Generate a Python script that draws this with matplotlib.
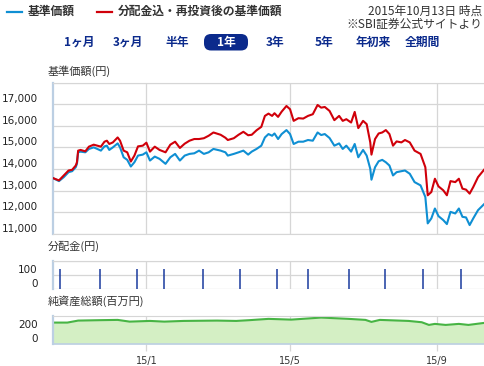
import matplotlib
matplotlib.use('Agg')
import matplotlib.pyplot as plt
import matplotlib.dates as mdates
from matplotlib.lines import Line2D
from matplotlib.patches import FancyBboxPatch
from matplotlib.transforms import ScaledTranslation
import pandas as pd

# --- data ---
price_dates = ['2014-10-15', '2014-10-20', '2014-10-24', '2014-10-28', '2014-10-31', '2014-11-03', '2014-11-04',
               '2014-11-05', '2014-11-07', '2014-11-11', '2014-11-14', '2014-11-18', '2014-11-21', '2014-11-24',
               '2014-11-27', '2014-11-29', '2014-12-01', '2014-12-04', '2014-12-08', '2014-12-10', '2014-12-13',
               '2014-12-16', '2014-12-19', '2014-12-22', '2014-12-25', '2014-12-29', '2015-01-01', '2015-01-04',
               '2015-01-08', '2015-01-12', '2015-01-17', '2015-01-21', '2015-01-25', '2015-01-29', '2015-02-02',
               '2015-02-06', '2015-02-10', '2015-02-14', '2015-02-18', '2015-02-22', '2015-02-26', '2015-03-04',
               '2015-03-08', '2015-03-10', '2015-03-15', '2015-03-19', '2015-03-23', '2015-03-27', '2015-03-30',
               '2015-04-03', '2015-04-07', '2015-04-10', '2015-04-13', '2015-04-16', '2015-04-18', '2015-04-21',
               '2015-04-24', '2015-04-28', '2015-05-01', '2015-05-04', '2015-05-08', '2015-05-12', '2015-05-16',
               '2015-05-20', '2015-05-24', '2015-05-27', '2015-05-30', '2015-06-03', '2015-06-07', '2015-06-11',
               '2015-06-14', '2015-06-17', '2015-06-21', '2015-06-24', '2015-06-27', '2015-07-01', '2015-07-04',
               '2015-07-07', '2015-07-08', '2015-07-11', '2015-07-14', '2015-07-17', '2015-07-20', '2015-07-23',
               '2015-07-26', '2015-07-29', '2015-08-02', '2015-08-05', '2015-08-09', '2015-08-13', '2015-08-18',
               '2015-08-22', '2015-08-24', '2015-08-27', '2015-08-30', '2015-09-02', '2015-09-06', '2015-09-09',
               '2015-09-12', '2015-09-16', '2015-09-19', '2015-09-22', '2015-09-25', '2015-09-28', '2015-10-01',
               '2015-10-05', '2015-10-10']
nav = [13580, 13441, 13625, 13855, 13901, 14085, 14241, 14775, 14807, 14775, 14931, 15004, 14931, 14853,
       15050, 15083, 14885, 15004, 15188, 15004, 14545, 14425, 14117, 14315, 14623, 14669, 14775, 14393,
       14577, 14471, 14241, 14545, 14701, 14393, 14623, 14701, 14729, 14853, 14701, 14775, 14931, 14853,
       14775, 14623, 14701, 14775, 14853, 14669, 14807, 14931, 15083, 15464, 15621, 15542, 15648, 15391,
       15621, 15805, 15621, 15161, 15267, 15267, 15345, 15313, 15694, 15575, 15621, 15437, 15083, 15188,
       14931, 15083, 14807, 15161, 14545, 14885, 14623, 14011, 13506, 14085, 14361, 14425, 14315, 14163,
       13703, 13855, 13901, 13933, 13781, 13395, 13243, 12705, 11482, 11712, 12172, 11818, 11634, 11450,
       12016, 11942, 12172, 11786, 11758, 11404, 11712, 12094, 12370]
nav_reinvested = [13580, 13473, 13703, 13933, 13965, 14163, 14315, 14853, 14885, 14821, 15037, 15129, 15083, 15037,
                  15267, 15313, 15161, 15234, 15464, 15313, 14853, 14775, 14347, 14623, 15050, 15083, 15221, 14807,
                  15037, 14885, 14775, 15129, 15267, 14977, 15175, 15313, 15391, 15391, 15427, 15542, 15694, 15588,
                  15450, 15345, 15427, 15588, 15726, 15565, 15588, 15795, 15956, 16462, 16568, 16462, 16586, 16416,
                  16660, 16922, 16770, 16232, 16356, 16338, 16462, 16540, 16968, 16844, 16876, 16692, 16264, 16462,
                  16232, 16310, 16154, 16646, 15896, 16232, 16080, 15234, 14669, 15391, 15648, 15694, 15805, 15621,
                  15083, 15280, 15234, 15345, 15234, 14853, 14701, 14085, 12784, 12935, 13551, 13197, 13014, 12784,
                  13441, 13395, 13551, 13092, 13046, 12862, 13165, 13625, 13965]

div_dates = ['2014-10-21', '2014-11-23', '2014-12-24', '2015-01-16', '2015-02-17', '2015-03-20',
             '2015-04-20', '2015-05-16', '2015-06-19', '2015-07-19', '2015-08-20', '2015-09-21']
dividends = [140, 140, 140, 140, 140, 140, 140, 140, 140, 140, 140, 140]

asset_dates = ['2014-10-15', '2014-10-27', '2014-11-05', '2014-11-23', '2014-12-08', '2014-12-18', '2015-01-04',
               '2015-01-16', '2015-02-01', '2015-03-01', '2015-03-17', '2015-03-28', '2015-04-13', '2015-05-02',
               '2015-05-27', '2015-06-19', '2015-07-03', '2015-07-08', '2015-07-15', '2015-08-08', '2015-08-19',
               '2015-08-25', '2015-08-30', '2015-09-08', '2015-09-19', '2015-09-27', '2015-10-10']
net_assets = [307, 307, 336, 342, 346, 321, 331, 321, 331, 336, 331, 342, 361, 350,
              380, 361, 346, 317, 346, 331, 312, 273, 288, 273, 288, 273, 302]

price_ticks = [11000, 12000, 13000, 14000, 15000, 16000, 17000]
price_tick_labels = ['11,000', '12,000', '13,000', '14,000', '15,000', '16,000', '17,000']
x_tick_dates = ['2015-01-01', '2015-05-01', '2015-09-01']
x_tick_labels = ['15/1', '15/5', '15/9']
periods = ['1ヶ月', '3ヶ月', '半年', '1年', '3年', '5年', '年初来', '全期間']
selected_period = '1年'

# --- style ---
JP = ['Noto Sans CJK JP', 'DejaVu Sans']
BLUE = '#0f8fd3'
RED = '#d0000a'
NAVY = '#0b2a8c'
GRID = '#d6d6d6'
SPINE = '#bccfe3'
TXT = '#333333'

W, H = 484, 366
fig = plt.figure(figsize=(W / 100, H / 100), dpi=100)


def fx(px):
    return px / W


def fy(py):
    return 1 - py / H


def panel(x0, y_top, y_bot):
    ax = fig.add_axes([fx(x0), fy(y_bot), fx(W) - fx(x0), (y_bot - y_top) / H])
    ax.set_axisbelow(True)
    ax.spines['right'].set_visible(False)
    ax.spines['top'].set_color(GRID)
    ax.spines['bottom'].set_color(GRID)
    ax.spines['left'].set_color(SPINE)
    ax.spines['left'].set_linewidth(1.6)
    ax.grid(True, color=GRID, lw=0.9)
    ax.tick_params(axis='y', length=0, pad=11, labelsize=7.5, labelcolor='#222222')
    ax.tick_params(axis='x', length=0, labelbottom=False)
    ax.set_xlim(pd.Timestamp('2014-10-15'), pd.Timestamp('2015-10-10'))
    ax.set_xticks(pd.to_datetime(x_tick_dates))
    return ax


def lift_labels(ax):
    off = ScaledTranslation(0, 6 / 100, fig.dpi_scale_trans)
    for lbl in ax.get_yticklabels():
        lbl.set_transform(lbl.get_transform() + off)


# main price panel
ax1 = panel(53, 82.7, 233.8)
ax1.plot(pd.to_datetime(price_dates), nav, color=BLUE, lw=1.5, zorder=3)
ax1.plot(pd.to_datetime(price_dates), nav_reinvested, color=RED, lw=1.5, zorder=3)
ax1.set_ylim(11000, 18000)
ax1.set_yticks(price_ticks + [18000], price_tick_labels + [''])
lift_labels(ax1)

# dividends panel
ax2 = panel(53, 261, 289)
ax2.vlines(pd.to_datetime(div_dates), 0, dividends, color='#1a3a9e', lw=1.1, zorder=3)
ax2.set_ylim(0, 200)
ax2.set_yticks([0, 100, 200], ['0', '100', ''])
ax2.spines['bottom'].set_visible(False)
lift_labels(ax2)

# net assets panel
ax3 = panel(53, 315.5, 343.7)
ad = pd.to_datetime(asset_dates)
ax3.fill_between(ad, 0, net_assets, color='#d4efc4', lw=0, zorder=1)
ax3.plot(ad, net_assets, color='#47b444', lw=1.5, zorder=2)
ax3.set_ylim(0, 410)
ax3.set_yticks([0, 200], ['0', '200'])
ax3.spines['bottom'].set_color(SPINE)
ax3.spines['bottom'].set_linewidth(1.2)
ax3.tick_params(axis='x', length=5, width=0.9, color=GRID, pad=4,
                labelbottom=True, labelsize=7, labelcolor=TXT)
ax3.set_xticklabels(x_tick_labels)
lift_labels(ax3)

# panel captions
fig.text(fx(48), fy(71), '基準価額(円)', family=JP, fontsize=8, color=TXT, va='center')
fig.text(fx(48), fy(246.5), '分配金(円)', family=JP, fontsize=8, color=TXT, va='center')
fig.text(fx(48), fy(301.5), '純資産総額(百万円)', family=JP, fontsize=8, color=TXT, va='center')

# legend on top
fig.add_artist(Line2D([fx(7), fx(22)], [fy(11.5), fy(11.5)], color=BLUE, lw=1.6))
fig.text(fx(27.5), fy(11.5), '基準価額', family=JP, fontsize=8.5, weight='bold', color=TXT, va='center')
fig.add_artist(Line2D([fx(97), fx(112)], [fy(11.5), fy(11.5)], color=RED, lw=1.6))
fig.text(fx(118), fy(11.5), '分配金込・再投資後の基準価額', family=JP, fontsize=8.5, weight='bold',
         color=TXT, va='center')
fig.text(fx(482), fy(11), '2015年10月13日 時点', family=JP, fontsize=8.5, color=TXT, va='center', ha='right')
fig.text(fx(482), fy(24.5), '※SBI証券公式サイトより', family=JP, fontsize=8.5, color=TXT, va='center', ha='right')

# period selector row
for i, p in enumerate(periods):
    cx = 79 + 49 * i
    if p == selected_period:
        box = FancyBboxPatch((cx - 22, H - 50.5), 44, 16.5, boxstyle='round,pad=0,rounding_size=7',
                             transform=None, facecolor=NAVY, edgecolor='none')
        fig.add_artist(box)
        fig.text(fx(cx), fy(42.5), p, family=JP, fontsize=8.5, weight='bold', color='white',
                 ha='center', va='center')
    else:
        fig.text(fx(cx), fy(42.5), p, family=JP, fontsize=8.5, weight='bold', color=NAVY,
                 ha='center', va='center')

fig.savefig('out.png', dpi=100)
